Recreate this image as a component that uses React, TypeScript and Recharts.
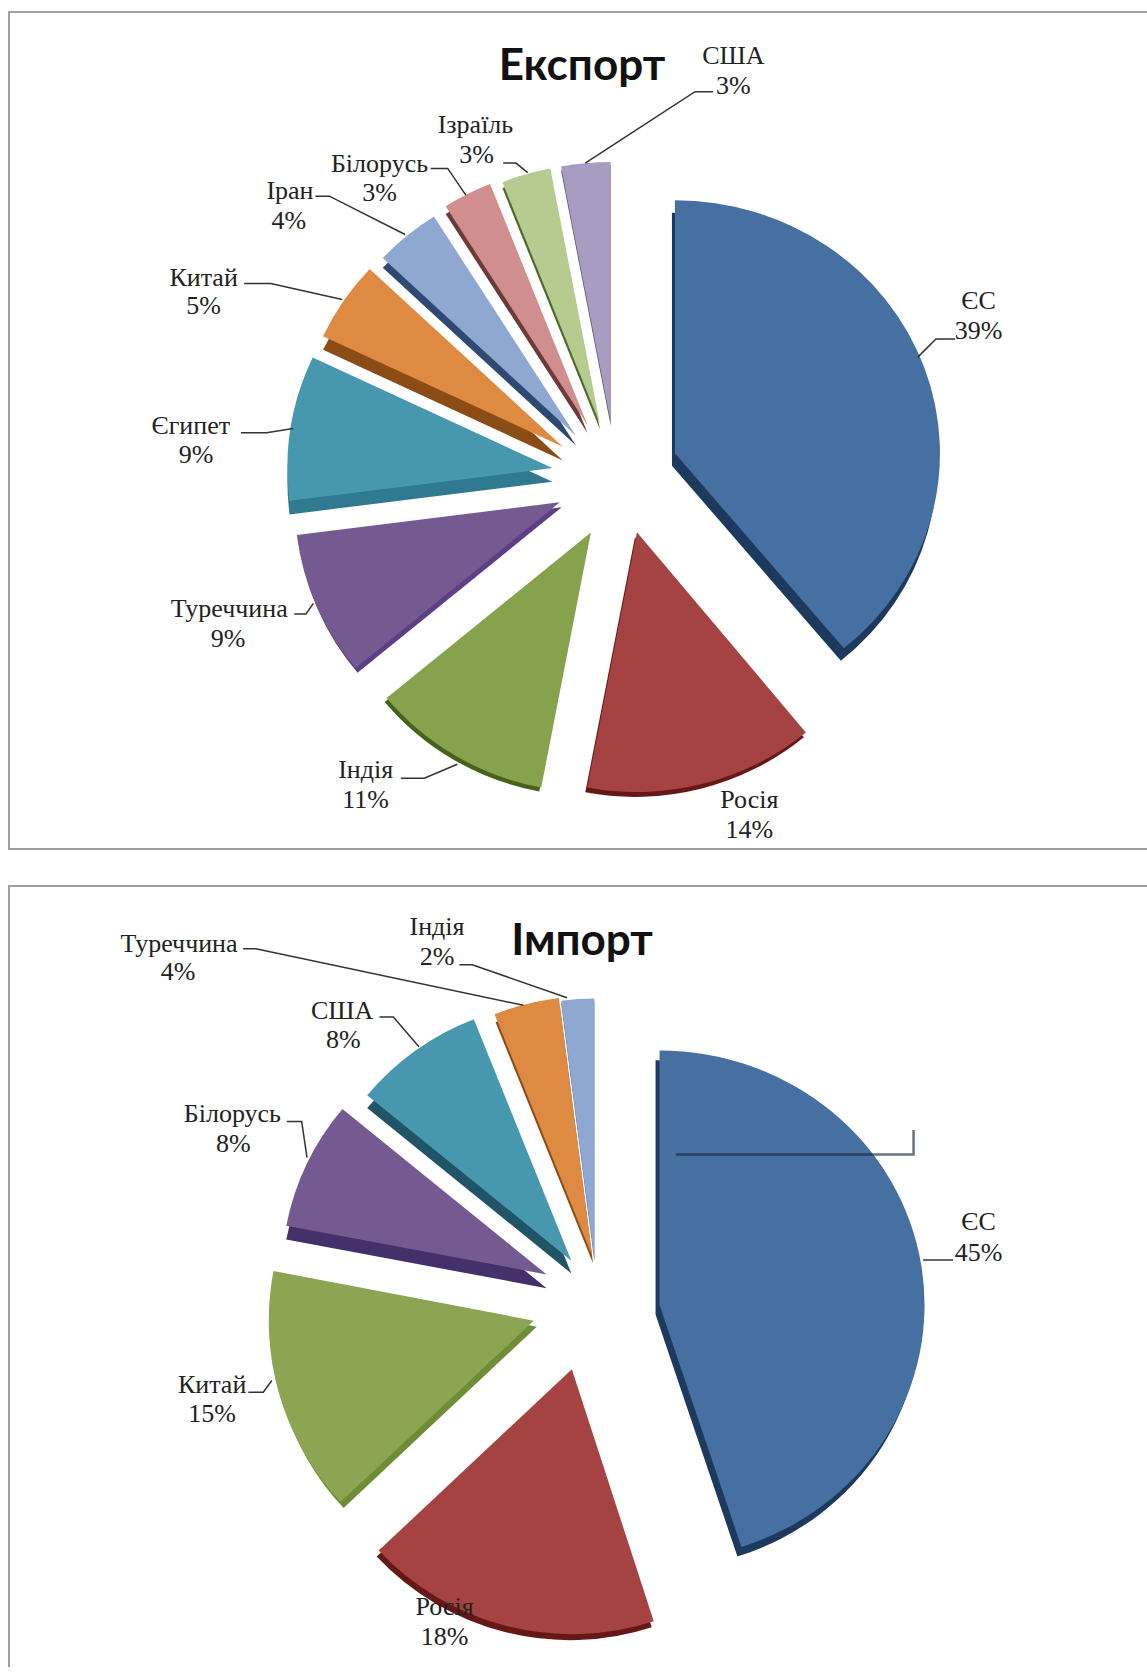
import { Pie, PieChart, Sector } from "recharts";

const S = 1147 / 1076;

const EXPORT_NAMES = ["ЄС", "Росія", "Індія", "Туреччина", "Єгипет", "Китай", "Іран", "Білорусь", "Ізраїль", "США"];
const EXPORT_VALUES = [39, 14, 11, 9, 9, 5, 4, 3, 3, 3];
const IMPORT_NAMES = ["ЄС", "Росія", "Китай", "Білорусь", "США", "Туреччина", "Індія"];
const IMPORT_VALUES = [45, 18, 15, 8, 8, 4, 2];

const EXPORT_COLORS = ["#466fa2", "#a44341", "#87a24d", "#745a91", "#4797ae", "#df8a43", "#8fa8d1", "#d08f8e", "#b6cb90", "#a99cc3"];
const EXPORT_SIDES = ["#1d3a5e", "#661816", "#47621c", "#5d3f86", "#2f7a90", "#8c4c16", "#2f4a72", "#6c3a38", "#4f6a2c", "#5d5078"];
const EXPORT_DEPTHS = [[-3, 13], [-2, 5], [-2, 4], [2, 5], [0, 14], [0, 14], [0, 10], [0, 8], [0, 6], [0, 4]];
// the original is a perspective 3D pie, so each slice gets a small shift and its own squash
const EXPORT_NUDGES = [[6, -1, 0.955], [8, 2, 0.98], [6, 8, 0.98], [-1, 5, 0.98], [-4, 3, 0.98], [-3, 5, 0.98], [-1, 6, 0.98], [0, 3, 0.98], [2, 5, 0.98], [2, 5, 0.98]];

const IMPORT_COLORS = ["#466fa2", "#a44341", "#8ba552", "#745a91", "#4797ae", "#df8a43", "#8fa8d1"];
const IMPORT_SIDES = ["#1d3a5e", "#661816", "#6f8c36", "#44306a", "#1f5566", "#8c4c16", "#5d7098"];
const IMPORT_DEPTHS = [[-4, 10], [-2, 6], [3, 6], [0, 14], [0, 13], [1, 8], [0, 3]];
const IMPORT_NUDGES = [[4, 1, 0.96], [-11, 0, 1], [-8, -8, 1], [1, -13, 0.98], [7, -5, 0.98], [8, -1, 0.98], [0, 3, 0.98]];

// [x, y of first line, x, y of second line]
const EXPORT_LABELS = [
  [918, 282, 918, 310], [703, 750, 703, 778], [343, 722, 343, 750], [215, 571, 214, 599], [179, 399, 184, 426],
  [191, 260, 191, 287], [272, 179, 271, 207], [356, 153, 356, 181], [446, 117, 447, 145], [688, 52, 688, 80],
];
const EXPORT_LEADERS = [
  "896,318 878,318 861,335", "", "376,730 398,730 429,717", "276,576 287,576 294,566", "226,406 250,406 275,402",
  "229,266 254,266 321,281", "296,184 309,184 380,220", "404,158 420,158 437,183", "472,153 484,153 495,162", "669,86 652,86 549,153",
];
const IMPORT_LABELS = [
  [918, 1146, 918, 1175], [417, 1507, 417, 1535], [199, 1299, 199, 1326], [218, 1045, 219, 1073],
  [321, 948, 322, 975], [168, 885, 167, 911], [410, 869, 410, 897],
];
const IMPORT_LEADERS = [
  "894,1182 866,1182", "", "233,1306 247,1306 255,1295", "269,1052 283,1052 288,1086",
  "356,954 369,954 393,982", "228,890 240,890 491,943", "431,905 443,905 532,936",
];
// stray callout line that sits on the blue slice in the original
const STRAY_LINE = "634,1083 857,1083 857,1060";

const EXPLODE = 58;

const exportData = EXPORT_NAMES.map((name, i) => ({ name, value: EXPORT_VALUES[i], fill: EXPORT_COLORS[i] }));
const importData = IMPORT_NAMES.map((name, i) => ({ name, value: IMPORT_VALUES[i], fill: IMPORT_COLORS[i] }));

function scalePoints(points: string) {
  return points
    .split(" ")
    .filter(Boolean)
    .map((p) => p.split(",").map((n) => Number(n) * S).join(","))
    .join(" ");
}

function makeShape(sides: string[], depths: number[][], nudges: number[][]) {
  return function SliceShape(props: any) {
    const { cx, cy, outerRadius, startAngle, endAngle, midAngle, fill, index } = props;
    const rad = (midAngle * Math.PI) / 180;
    const [nx, ny, squash] = nudges[index];
    const ox = EXPLODE * Math.cos(rad) + nx * S;
    const oy = -EXPLODE * Math.sin(rad) + ny * S;
    const [dx, dy] = depths[index];
    const sector = { cx: 0, cy: 0, innerRadius: 0, outerRadius, startAngle, endAngle };
    return (
      <g transform={`translate(${cx + ox},${cy + oy}) scale(1,${squash})`}>
        <Sector {...sector} fill={sides[index]} transform={`translate(${dx},${dy})`} />
        <Sector {...sector} fill={fill} />
      </g>
    );
  };
}

function makeLabel(names: string[], values: number[], labels: number[][], leaders: string[], stray?: string) {
  return function SliceLabel(props: any) {
    const i = props.index;
    const [x1, y1, x2, y2] = labels[i];
    const points = scalePoints(leaders[i]);
    const textStyle = { fontFamily: "'Liberation Serif', serif", fontSize: 26, fill: "#222" };
    return (
      <g>
        {stray && i === 0 && (
          <polyline points={scalePoints(stray)} fill="none" stroke="rgba(25,40,65,0.65)" strokeWidth={2.5} />
        )}
        {points && <polyline points={points} fill="none" stroke="#333" strokeWidth={1.5} />}
        <text x={x1 * S} y={y1 * S} textAnchor="middle" dominantBaseline="central" style={textStyle}>{names[i]}</text>
        <text x={x2 * S} y={y2 * S} textAnchor="middle" dominantBaseline="central" style={textStyle}>{values[i]}%</text>
      </g>
    );
  };
}

const titleStyle = { fontFamily: "Lato, 'Open Sans', sans-serif", fontSize: 44, fontWeight: 700, fill: "#111" };
const frameLine = "2px solid #a0a0a0";

export default function App() {
  return (
    <div style={{ position: "absolute", left: 0, top: 0, width: 1147, height: 1672, overflow: "hidden", background: "#fff" }}>
      <div style={{ position: "absolute", left: 8, top: 11, width: 1160, height: 835, borderLeft: frameLine, borderTop: frameLine, borderBottom: frameLine }} />
      <div style={{ position: "absolute", left: 8, top: 885, width: 1160, height: 780, borderLeft: frameLine, borderTop: frameLine }} />
      <div style={{ position: "absolute", left: 0, top: 0 }}>
        <PieChart width={1147} height={1672} margin={{ top: 0, right: 0, bottom: 0, left: 0 }}>
          <Pie
            data={exportData}
            dataKey="value"
            nameKey="name"
            cx={614}
            cy={474}
            outerRadius={265}
            startAngle={90}
            endAngle={-270}
            stroke="none"
            isAnimationActive={false}
            shape={makeShape(EXPORT_SIDES, EXPORT_DEPTHS, EXPORT_NUDGES)}
            label={makeLabel(EXPORT_NAMES, EXPORT_VALUES, EXPORT_LABELS, EXPORT_LEADERS)}
            labelLine={false}
          />
          <Pie
            data={importData}
            dataKey="value"
            nameKey="name"
            cx={598}
            cy={1313}
            outerRadius={265}
            startAngle={90}
            endAngle={-270}
            stroke="none"
            isAnimationActive={false}
            shape={makeShape(IMPORT_SIDES, IMPORT_DEPTHS, IMPORT_NUDGES)}
            label={makeLabel(IMPORT_NAMES, IMPORT_VALUES, IMPORT_LABELS, IMPORT_LEADERS, STRAY_LINE)}
            labelLine={false}
          />
          <text x={546 * S} y={59 * S} textAnchor="middle" dominantBaseline="central" style={titleStyle}>Експорт</text>
          <text x={546 * S} y={880 * S} textAnchor="middle" dominantBaseline="central" style={titleStyle}>Імпорт</text>
        </PieChart>
      </div>
    </div>
  );
}
